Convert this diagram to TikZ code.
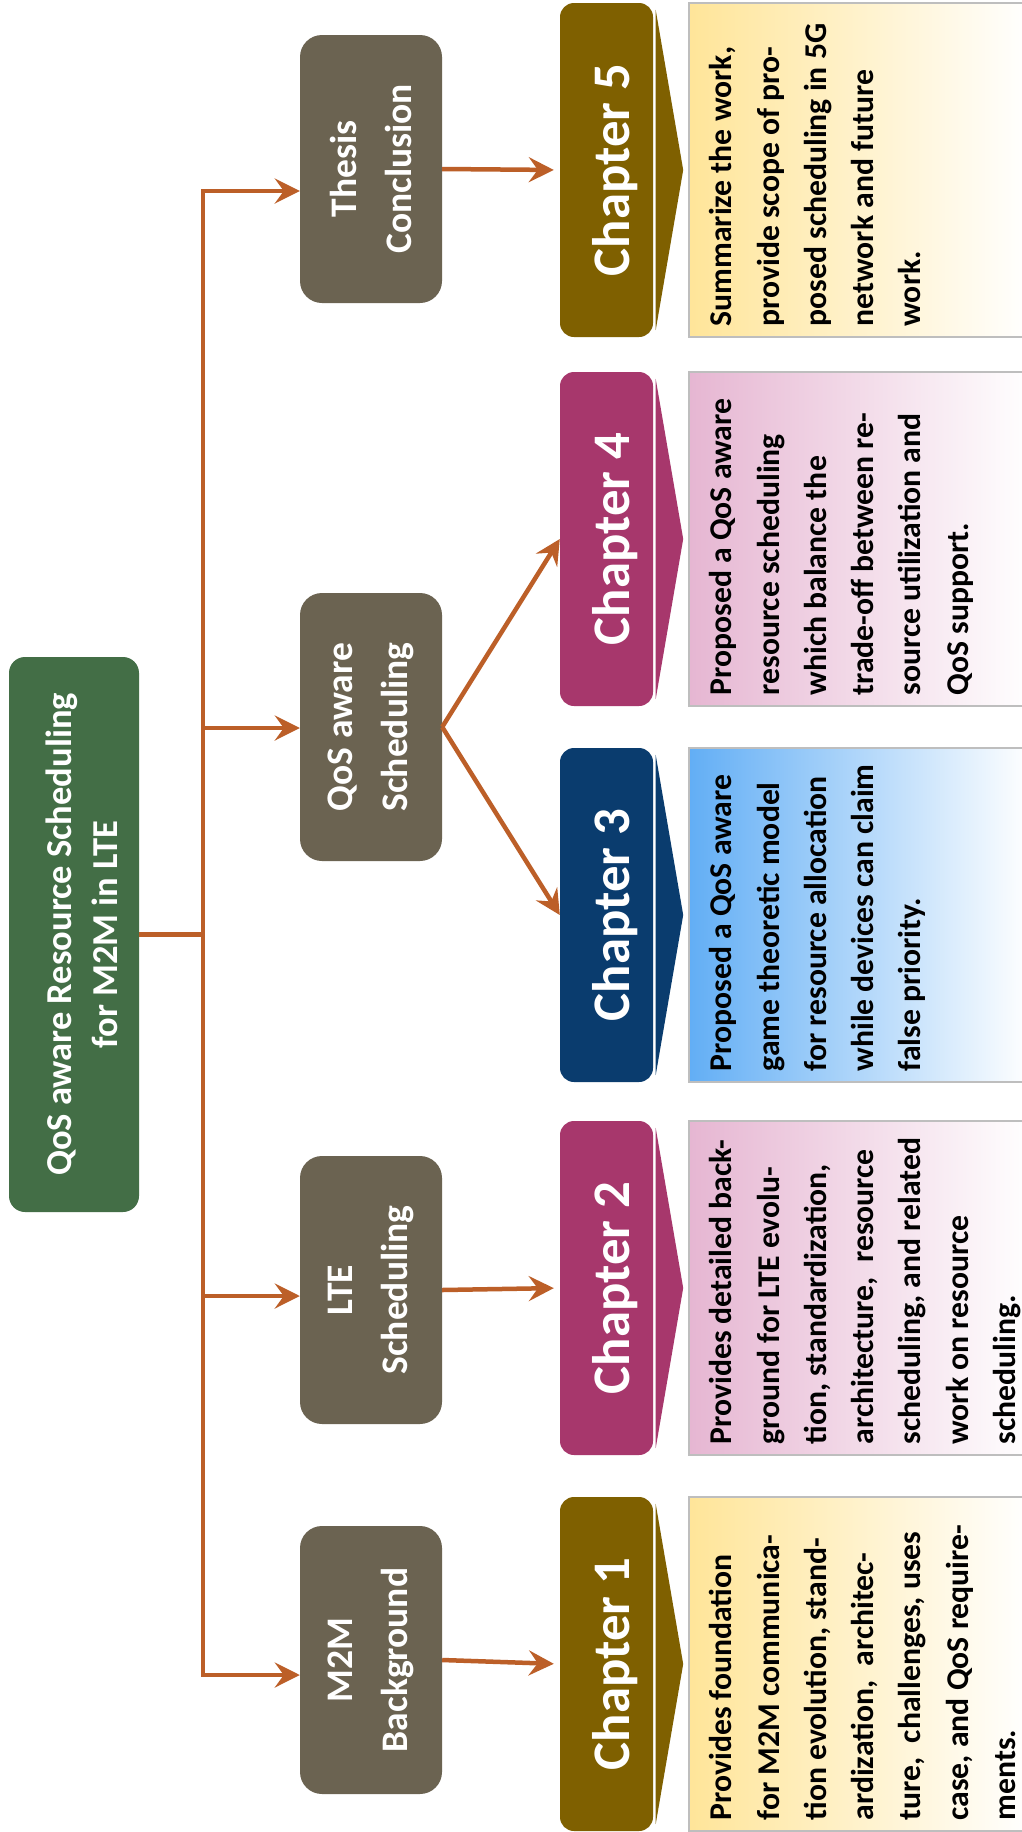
\documentclass[tikz,border=0pt]{standalone}
\usepackage{fontspec}
\setmainfont{Carlito}
\usetikzlibrary{arrows.meta,calc}

\definecolor{rootgreen}{RGB}{67,110,70}
\definecolor{topicgray}{RGB}{107,99,81}
\definecolor{olive}{RGB}{127,96,0}
\definecolor{plum}{RGB}{167,55,108}
\definecolor{navy}{RGB}{10,60,110}
\definecolor{flowc}{RGB}{188,95,40}
\definecolor{sandfill}{RGB}{255,229,153}
\definecolor{rosefill}{RGB}{230,182,210}
\definecolor{skyfill}{RGB}{98,174,245}
\definecolor{edgegray}{RGB}{190,190,190}

\begin{document}
\begin{tikzpicture}[x=1pt,y=-1pt,
  rootbox/.style={fill=rootgreen, rounded corners=16pt, minimum width=130pt, minimum height=555pt, inner sep=0pt},
  topicbox/.style={fill=topicgray, rounded corners=22pt, minimum width=142pt, minimum height=268pt, inner sep=0pt},
  chapbody/.style={rounded corners=14pt, minimum width=93pt, minimum height=334pt, inner sep=0pt},
  descbox/.style={draw=edgegray, line width=1.2pt, right color=white, minimum width=341pt, minimum height=334pt, inner sep=0pt},
  roottext/.style={rotate=90, text=white, align=center, font=\bfseries\fontsize{36.5}{46}\selectfont, inner sep=0pt},
  topictext/.style={rotate=90, text=white, align=center, font=\bfseries\fontsize{37.5}{55}\selectfont, inner sep=0pt},
  chaptext/.style={rotate=90, text=white, font=\bfseries\fontsize{52.8}{60}\selectfont, inner sep=0pt},
  desctext/.style={rotate=90, anchor=north west, align=left, font=\bfseries\fontsize{31.7}{47.3}\selectfont, inner sep=0pt},
  link/.style={draw=flowc, line width=4.5pt},
  flow/.style={link, -{Stealth[length=25pt,width=25pt,inset=9pt]}},
]
\useasboundingbox (0,0) rectangle (1021,1832);
\fill[white] (0,0) rectangle (1021,1832);

% root topic
\node[rootbox] (root) at (74,934.5) {};
\node[roottext] (roott) at ($(root.center)+(8,0)$) {QoS aware Resource Scheduling\\for M2M in LTE};

% second-level topics
\node[topicbox] (thesis) at (371,169) {};
\node[topicbox] (qos) at (371,727) {};
\node[topicbox] (lte) at (371,1290) {};
\node[topicbox] (m2m) at (371,1660) {};
\node[topictext] (thesist) at (thesis.center) {Thesis\\Conclusion};
\node[topictext] (qost) at (qos.center) {QoS aware\\Scheduling};
\node[topictext] (ltet) at (lte.center) {LTE\\Scheduling};
\node[topictext] (m2mt) at (m2m.center) {M2M\\Background};

% chapter tabs with chevrons
\foreach \n/\yc/\col in {5/170/olive, 4/539/plum, 3/915/navy, 2/1288/plum, 1/1664/olive}{
  \node[chapbody, fill=\col] (c\n) at (606.5,\yc) {};
  \fill[\col] ($(c\n.north east)+(2.5,7)$) -- ($(c\n.east)+(30,0)$) -- ($(c\n.south east)+(2.5,-7)$) -- cycle;
  \node[chaptext] (c\n t) at ($(c\n.center)+(9,0)$) {Chapter \n};
}

% description panels
\node[descbox, left color=sandfill] (d5) at (859.5,170) {};
\node[descbox, left color=rosefill] (d4) at (859.5,539) {};
\node[descbox, left color=skyfill] (d3) at (859.5,915) {};
\node[descbox, left color=rosefill] (d2) at (859.5,1288) {};
\node[descbox, left color=sandfill] (d1) at (859.5,1664) {};

\node[desctext] (t5) at ($(d5.south west)+(10,-11)$) {\strut Summarize the work,\\provide scope of pro-\\posed scheduling in 5G\\network and future\\work.};
\node[desctext] (t4) at ($(d4.south west)+(10,-11)$) {\strut Proposed a QoS aware\\resource scheduling\\which balance the\\trade-off between re-\\source utilization and\\QoS support.};
\node[desctext] (t3) at ($(d3.south west)+(10,-11)$) {\strut Proposed a QoS aware\\game theoretic model\\for resource allocation\\while devices can claim\\false priority.};
\node[desctext] (t2) at ($(d2.south west)+(10,-11)$) {\strut Provides detailed back-\\ground for LTE evolu-\\tion, standardization,\\architecture,~ resource\\scheduling, and related\\work on resource\\scheduling.};
\node[desctext] (t1) at ($(d1.south west)+(10,-11)$) {\strut Provides foundation\\for M2M communica-\\tion evolution, stand-\\ardization,~ architec-\\ture,~ challenges, uses\\case, and QoS require-\\ments.};

% bus taps
\coordinate (tap5) at (203,191);
\coordinate (tapQ) at (203,728);
\coordinate (tapL) at (203,1296);
\coordinate (tapM) at (203,1675);

% connectors
\draw[link] (root.east) -- (root.east -| tap5);
\draw[flow] (tapM) -- (tap5) -- (tap5 -| thesis.west);
\draw[flow] (tap5) -- (tapM) -- (tapM -| m2m.west);
\draw[flow] (tapQ) -- (tapQ -| qos.west);
\draw[flow] (tapL) -- (tapL -| lte.west);

\draw[flow, shorten >=6pt] (thesis.east) -- (c5.west);
\draw[flow] (qos.east) -- (c4.west);
\draw[flow] (qos.east) -- (c3.west);
\draw[flow, shorten >=6pt] (lte.east) -- (c2.west);
\draw[flow, shorten >=6pt] (m2m.east) -- (c1.west);
\end{tikzpicture}
\end{document}
